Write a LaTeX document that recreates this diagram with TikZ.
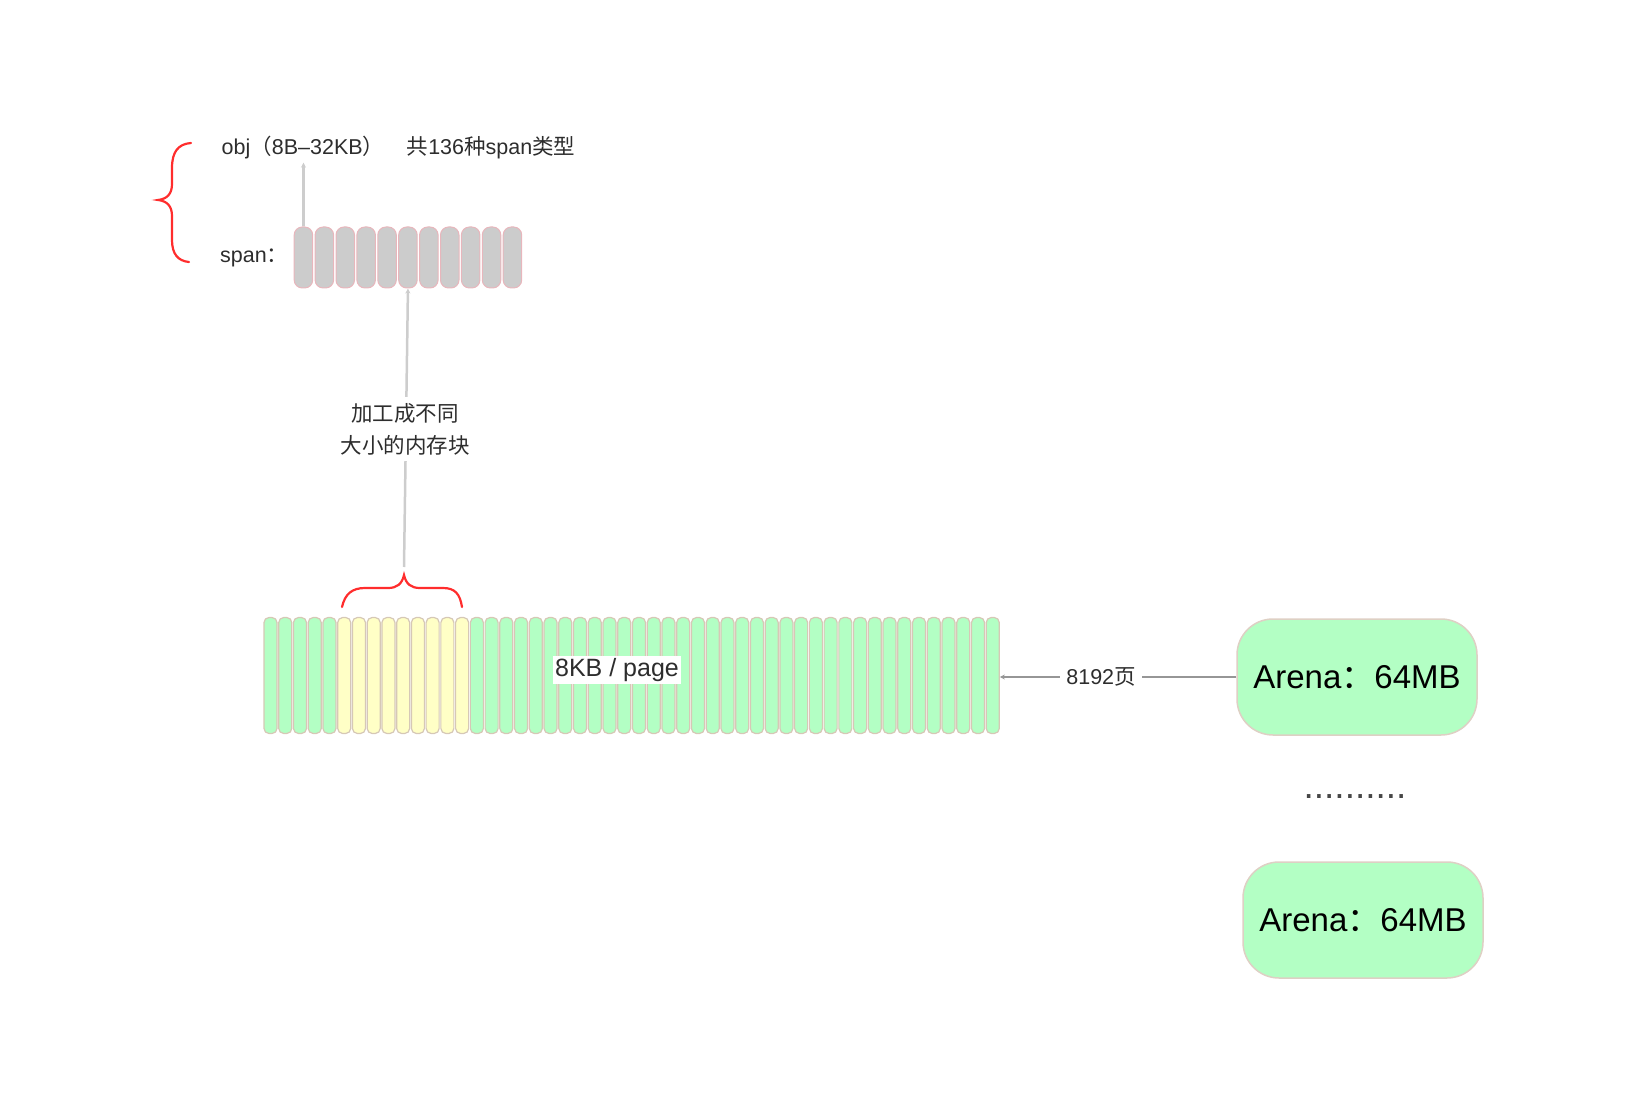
\documentclass[tikz,border=0pt]{standalone}
\usepackage{fontspec}
\setmainfont{Liberation Sans}
\newfontfamily\cjk{Noto Sans CJK SC}
\usetikzlibrary{calc,arrows.meta}
\definecolor{pgreen}{RGB}{179,255,196}
\definecolor{pyellow}{RGB}{255,255,198}
\definecolor{cellline}{RGB}{214,200,182}
\definecolor{arenaline}{RGB}{222,208,196}
\definecolor{spanfill}{RGB}{204,204,204}
\definecolor{spanline}{RGB}{232,182,188}
\definecolor{txt}{RGB}{45,45,45}
\definecolor{dotcol}{RGB}{70,70,70}
\definecolor{conn}{RGB}{205,205,205}
\definecolor{conndark}{RGB}{150,150,150}
\definecolor{bracered}{RGB}{255,45,45}
\begin{document}
\begin{tikzpicture}[x=1pt,y=-1pt,
  pagecell/.style={draw=cellline, line width=1.2pt, rounded corners=5pt, minimum width=13pt, minimum height=116pt, inner sep=0pt},
  spancell/.style={draw=spanline, fill=spanfill, line width=1pt, rounded corners=8pt, minimum width=18.5pt, minimum height=61pt, inner sep=0pt},
  arena/.style={draw=arenaline, fill=pgreen, line width=1.5pt, rounded corners=36pt, minimum width=240pt, minimum height=116pt, font=\fontsize{33}{38}\selectfont, text=black},
  small/.style={font=\fontsize{21.5}{32}\selectfont, text=txt},
  bracestyle/.style={draw=bracered, line width=2.2pt, line cap=round},
  tipconn/.style={-{Stealth[length=5pt,width=5pt]}, draw=conn, line width=2.5pt},
  darkconn/.style={-{Stealth[length=5pt,width=5pt]}, draw=conndark, line width=1.5pt},
]
\useasboundingbox (0,0) rectangle (1650,1102);

% top labels
\node[small, inner sep=1pt] (objlbl) at (303,148) {obj{\cjk （}8B–32KB{\cjk ）}};
\node[small, inner sep=1pt] (typelbl) at (491,148) {{\cjk 共}136{\cjk 种}span{\cjk 类型}};
\node[small, inner sep=1pt, anchor=west] (spanlbl) at (219,258) {span{\cjk ：}};

% span cells
\foreach \i in {1,...,11}{
  \node[spancell] (sp\i) at ({293+(\i-0.5)*20.9},257.5) {};
}

% left brace
\path[bracestyle] (191,143) .. controls (178,144) and (172,152) .. (172,168)
  -- (172,184) .. controls (172,194) and (167,199) .. (158,200)
  .. controls (167,201) and (172,206) .. (172,216)
  -- (172,240) .. controls (172,254) and (178,261) .. (189,262);

% page cells
\foreach \i in {1,...,50}{
  \ifnum\i<6 \def\cc{pgreen}\else\ifnum\i<15 \def\cc{pyellow}\else\def\cc{pgreen}\fi\fi
  \node[pagecell, fill=\cc] (p\i) at ({270.5+(\i-1)*14.74},675.5) {};
}
\node[fill=white, inner sep=2pt, text=txt, font=\fontsize{25}{30}\selectfont] (pagelbl) at (617,670) {8KB / page};

% bottom brace
\coordinate (brtip) at (404,575);
\path[bracestyle] (342,607) .. controls (345,594) and (352,588) .. (365,588)
  -- (388,588) .. controls (397,588) and (402,584) .. (brtip)
  .. controls (406,584) and (411,588) .. (420,588)
  -- (443,588) .. controls (455,588) and (460,594) .. (462,607);

% vertical connector with label
\coordinate (vstart) at (404,567);
\draw[tipconn] (vstart) -- (sp6.south);
\node[small, fill=white, align=center, inner sep=6pt] (proclbl) at (405,429) {{\cjk 加工成不同}\\{\cjk 大小的内存块}};

% obj arrow
\draw[tipconn] (sp1.north) -- ($(sp1.north |- objlbl.south)+(0,2)$);

% arenas
\node[arena] (arena1) at (1357,677) {Arena{\cjk ：}64MB};
\node[arena] (arena2) at (1363,920) {Arena{\cjk ：}64MB};
\node[text=dotcol, font=\fontsize{37}{40}\selectfont, inner sep=0pt, anchor=base] (dots) at (1355,798) {..........};

% arena -> pages
\draw[darkconn] (arena1.west) -- (arena1.west -| p50.east);
\node[small, fill=white, inner sep=6pt] (pagecount) at (1101,677) {8192{\cjk 页}};
\end{tikzpicture}
\end{document}
